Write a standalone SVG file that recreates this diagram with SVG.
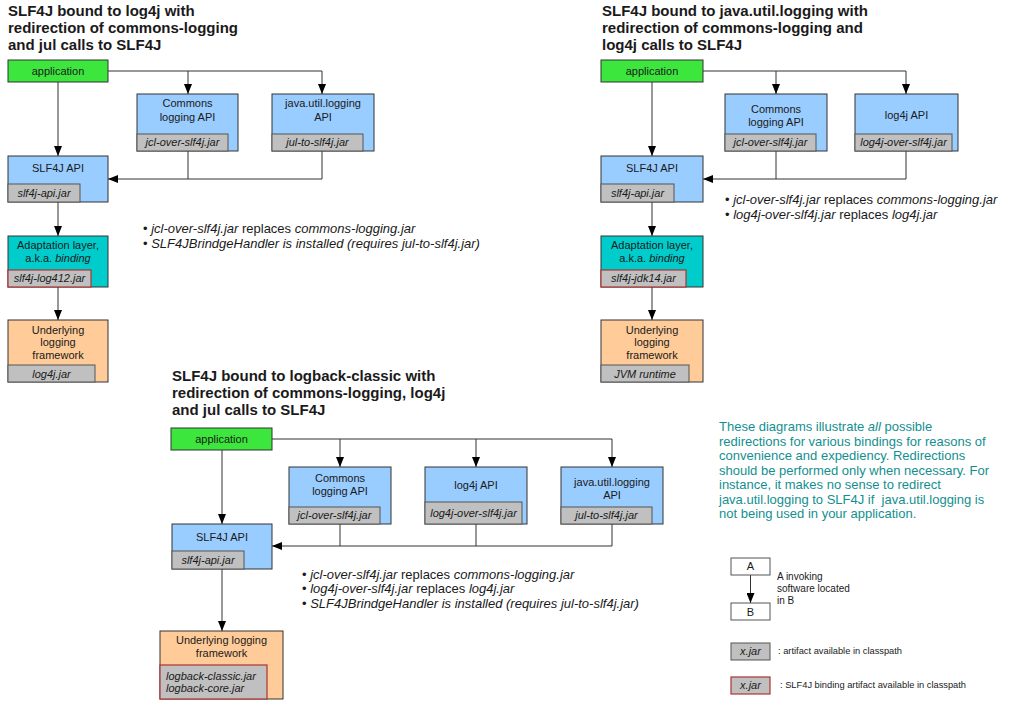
<svg xmlns="http://www.w3.org/2000/svg" width="1010" height="717" viewBox="0 0 1010 717">
<defs>
<style>
text{font-family:"Liberation Sans",Arial,Helvetica,sans-serif;fill:#1a1a1a}
.title{font-size:15px;font-weight:bold}
.lbl{font-size:11px;text-anchor:middle}
.jt{font-size:11px;font-style:italic;text-anchor:middle}
.jl{font-size:11px;font-style:italic;text-anchor:start}
.bul{font-size:13px}
.it{font-style:italic}
.note{font-size:13px;fill:#138f8f}
.sm{font-size:10px}
.xs{font-size:9.3px}
.box{stroke:#333;stroke-width:1}
.app{fill:#3de63d}
.api{fill:#99ccff}
.bind{fill:#00cccc}
.fw{fill:#ffcc99}
.jar{fill:#c0c0c0;stroke:#555;stroke-width:1}
.bjar{fill:#c0c0c0;stroke:#a33;stroke-width:1.2}
.wbox{fill:#fff;stroke:#555;stroke-width:1}
.conn{fill:none;stroke:#333;stroke-width:1}
</style>
<marker id="ah" markerUnits="userSpaceOnUse" markerWidth="10" markerHeight="8" refX="10" refY="4" orient="auto">
<path d="M0,0 L10,4 L0,8 z" fill="#000"/>
</marker>
</defs>
<rect width="1010" height="717" fill="#fff"/>

<!-- Titles -->
<g id="titles">
<text class="title" x="8" y="16">SLF4J bound to log4j with</text>
<text class="title" x="8" y="33">redirection of commons-logging</text>
<text class="title" x="8" y="50">and jul calls to SLF4J</text>
<text class="title" x="602" y="16">SLF4J bound to java.util.logging with</text>
<text class="title" x="602" y="33">redirection of commons-logging and</text>
<text class="title" x="602" y="50">log4j calls to SLF4J</text>
<text class="title" x="172" y="381">SLF4J bound to logback-classic with</text>
<text class="title" x="172" y="398">redirection of commons-logging, log4j</text>
<text class="title" x="172" y="415">and jul calls to SLF4J</text>
</g>

<!-- Connectors -->
<g id="connectors">
<path class="conn" d="M108,71 H322 V94" marker-end="url(#ah)"/>
<path class="conn" d="M188,71 V94" marker-end="url(#ah)"/>
<path class="conn" d="M58,82 V156" marker-end="url(#ah)"/>
<path class="conn" d="M188,151 V179 H108" marker-end="url(#ah)"/>
<path class="conn" d="M322,151 V179 H188"/>
<path class="conn" d="M58,202 V236" marker-end="url(#ah)"/>
<path class="conn" d="M58,287 V320" marker-end="url(#ah)"/>

<path class="conn" d="M703,71 H906 V94" marker-end="url(#ah)"/>
<path class="conn" d="M776,71 V94" marker-end="url(#ah)"/>
<path class="conn" d="M652,82 V156" marker-end="url(#ah)"/>
<path class="conn" d="M776,151 V179 H703" marker-end="url(#ah)"/>
<path class="conn" d="M906,151 V179 H776"/>
<path class="conn" d="M652,202 V236" marker-end="url(#ah)"/>
<path class="conn" d="M652,287 V320" marker-end="url(#ah)"/>

<path class="conn" d="M272,439 H612 V467" marker-end="url(#ah)"/>
<path class="conn" d="M340,439 V467" marker-end="url(#ah)"/>
<path class="conn" d="M476,439 V467" marker-end="url(#ah)"/>
<path class="conn" d="M222,450 V524" marker-end="url(#ah)"/>
<path class="conn" d="M340,524 V546 H272" marker-end="url(#ah)"/>
<path class="conn" d="M612,524 V546 H340"/>
<path class="conn" d="M476,524 V546"/>
<path class="conn" d="M222,569 V631" marker-end="url(#ah)"/>

<path class="conn" d="M750.5,575 V603" marker-end="url(#ah)"/>
</g>

<!-- Top-left diagram -->
<g id="tl-app">
<rect class="box app" x="8" y="60" width="100" height="22"/>
<text class="lbl" x="58" y="75">application</text>
</g>
<g id="tl-jcl">
<rect class="box api" x="137" y="94" width="101" height="57"/>
<text class="lbl" x="187.5" y="107">Commons</text>
<text class="lbl" x="187.5" y="121">logging API</text>
<rect class="jar" x="137" y="134" width="91" height="17"/>
<text class="jt" x="182.5" y="146">jcl-over-slf4j.jar</text>
</g>
<g id="tl-jul">
<rect class="box api" x="272" y="94" width="102" height="57"/>
<text class="lbl" x="323" y="107">java.util.logging</text>
<text class="lbl" x="323" y="121">API</text>
<rect class="jar" x="272" y="134" width="91" height="17"/>
<text class="jt" x="317.5" y="146">jul-to-slf4j.jar</text>
</g>
<g id="tl-slf4j">
<rect class="box api" x="8" y="156" width="100" height="46"/>
<text class="lbl" x="58" y="172">SLF4J API</text>
<rect class="jar" x="8" y="184" width="72" height="18"/>
<text class="jt" x="44" y="197">slf4j-api.jar</text>
</g>
<g id="tl-binding">
<rect class="box bind" x="8" y="236" width="100" height="51"/>
<text class="lbl" x="58" y="249">Adaptation layer,</text>
<text class="lbl" x="58" y="262">a.k.a. <tspan class="it">binding</tspan></text>
<rect class="bjar" x="8" y="270" width="83" height="17"/>
<text class="jt" x="49.5" y="282">slf4j-log412.jar</text>
</g>
<g id="tl-fw">
<rect class="box fw" x="8" y="320" width="100" height="62"/>
<text class="lbl" x="58" y="334">Underlying</text>
<text class="lbl" x="58" y="346">logging</text>
<text class="lbl" x="58" y="359">framework</text>
<rect class="jar" x="8" y="365" width="87" height="17"/>
<text class="jt" x="51.5" y="378">log4j.jar</text>
</g>
<g id="tl-notes">
<text class="bul" x="143" y="233">• <tspan class="it">jcl-over-slf4j.jar</tspan> replaces <tspan class="it">commons-logging.jar</tspan></text>
<text class="bul" x="143" y="248">• <tspan class="it">SLF4JBrindgeHandler is installed (requires jul-to-slf4j.jar)</tspan></text>
</g>

<!-- Top-right diagram -->
<g id="tr-app">
<rect class="box app" x="601" y="60" width="102" height="22"/>
<text class="lbl" x="652" y="75">application</text>
</g>
<g id="tr-jcl">
<rect class="box api" x="725" y="94" width="102" height="57"/>
<text class="lbl" x="776" y="113">Commons</text>
<text class="lbl" x="776" y="126">logging API</text>
<rect class="jar" x="725" y="134" width="91" height="17"/>
<text class="jt" x="770.5" y="146">jcl-over-slf4j.jar</text>
</g>
<g id="tr-log4j">
<rect class="box api" x="855" y="94" width="103" height="57"/>
<text class="lbl" x="906.5" y="119">log4j API</text>
<rect class="jar" x="855" y="134" width="97" height="17"/>
<text class="jt" x="903.5" y="146">log4j-over-slf4j.jar</text>
</g>
<g id="tr-slf4j">
<rect class="box api" x="601" y="156" width="102" height="46"/>
<text class="lbl" x="652" y="172">SLF4J API</text>
<rect class="jar" x="601" y="184" width="73" height="18"/>
<text class="jt" x="637.5" y="197">slf4j-api.jar</text>
</g>
<g id="tr-binding">
<rect class="box bind" x="601" y="236" width="102" height="51"/>
<text class="lbl" x="652" y="249">Adaptation layer,</text>
<text class="lbl" x="652" y="262">a.k.a. <tspan class="it">binding</tspan></text>
<rect class="bjar" x="601" y="270" width="85" height="17"/>
<text class="jt" x="643.5" y="282">slf4j-jdk14.jar</text>
</g>
<g id="tr-fw">
<rect class="box fw" x="601" y="320" width="102" height="62"/>
<text class="lbl" x="652" y="334">Underlying</text>
<text class="lbl" x="652" y="346">logging</text>
<text class="lbl" x="652" y="359">framework</text>
<rect class="jar" x="601" y="365" width="88" height="17"/>
<text class="jt" x="645" y="378">JVM runtime</text>
</g>
<g id="tr-notes">
<text class="bul" x="725" y="204">• <tspan class="it">jcl-over-slf4j.jar</tspan> replaces <tspan class="it">commons-logging.jar</tspan></text>
<text class="bul" x="725" y="219">• <tspan class="it">log4j-over-slf4j.jar</tspan> replaces <tspan class="it">log4j.jar</tspan></text>
</g>

<!-- Bottom diagram -->
<g id="b-app">
<rect class="box app" x="171" y="428" width="101" height="22"/>
<text class="lbl" x="221.5" y="443">application</text>
</g>
<g id="b-jcl">
<rect class="box api" x="289" y="467" width="102" height="57"/>
<text class="lbl" x="340" y="482">Commons</text>
<text class="lbl" x="340" y="495">logging API</text>
<rect class="jar" x="289" y="507" width="91" height="17"/>
<text class="jt" x="334.5" y="519">jcl-over-slf4j.jar</text>
</g>
<g id="b-log4j">
<rect class="box api" x="425" y="467" width="102" height="57"/>
<text class="lbl" x="476" y="489">log4j API</text>
<rect class="jar" x="425" y="502" width="97" height="22"/>
<text class="jt" x="473.5" y="517">log4j-over-slf4j.jar</text>
</g>
<g id="b-jul">
<rect class="box api" x="561" y="467" width="102" height="57"/>
<text class="lbl" x="612" y="486">java.util.logging</text>
<text class="lbl" x="612" y="499">API</text>
<rect class="jar" x="561" y="507" width="91" height="17"/>
<text class="jt" x="606.5" y="519">jul-to-slf4j.jar</text>
</g>
<g id="b-slf4j">
<rect class="box api" x="172" y="524" width="100" height="45"/>
<text class="lbl" x="222" y="541">SLF4J API</text>
<rect class="jar" x="172" y="551" width="72" height="18"/>
<text class="jt" x="208" y="564">slf4j-api.jar</text>
</g>
<g id="b-fw">
<rect class="box fw" x="160" y="631" width="123" height="68"/>
<text class="lbl" x="221.5" y="644">Underlying logging</text>
<text class="lbl" x="221.5" y="657">framework</text>
<rect class="bjar" x="160" y="665" width="107" height="34"/>
<text class="jl" x="166" y="680">logback-classic.jar</text>
<text class="jl" x="166" y="692">logback-core.jar</text>
</g>
<g id="b-notes">
<text class="bul" x="302" y="579">• <tspan class="it">jcl-over-slf4j.jar</tspan> replaces <tspan class="it">commons-logging.jar</tspan></text>
<text class="bul" x="302" y="593">• <tspan class="it">log4j-over-slf4j.jar</tspan> replaces <tspan class="it">log4j.jar</tspan></text>
<text class="bul" x="302" y="608">• <tspan class="it">SLF4JBrindgeHandler is installed (requires jul-to-slf4j.jar)</tspan></text>
</g>

<!-- Note -->
<g id="note">
<text class="note" x="719" y="431">These diagrams illustrate <tspan class="it">all</tspan> possible</text>
<text class="note" x="719" y="445.5">redirections for various bindings for reasons of</text>
<text class="note" x="719" y="460">convenience and expediency. Redirections</text>
<text class="note" x="719" y="474.5">should be performed only when necessary. For</text>
<text class="note" x="719" y="489">instance, it makes no sense to redirect</text>
<text class="note" x="719" y="503.5">java.util.logging to SLF4J if&#160; java.util.logging is</text>
<text class="note" x="719" y="518">not being used in your application.</text>
</g>

<!-- Legend -->
<g id="legend-a">
<rect class="wbox" x="731" y="558" width="39" height="17"/>
<text class="lbl" x="750.5" y="570">A</text>
</g>
<g id="legend-b">
<rect class="wbox" x="731" y="603" width="39" height="17"/>
<text class="lbl" x="750.5" y="616">B</text>
</g>
<g id="legend-ab-text">
<text class="sm" x="777" y="580">A invoking</text>
<text class="sm" x="777" y="592">software located</text>
<text class="sm" x="777" y="604">in B</text>
</g>
<g id="legend-jar">
<rect class="jar" x="731" y="643" width="39" height="17"/>
<text class="jt" x="750.5" y="655">x.jar</text>
<text class="xs" x="778" y="654">: artifact available in classpath</text>
</g>
<g id="legend-bjar">
<rect class="bjar" x="731" y="677" width="39" height="17"/>
<text class="jt" x="750.5" y="689">x.jar</text>
<text class="xs" x="780" y="688">: SLF4J binding artifact available in classpath</text>
</g>
</svg>
